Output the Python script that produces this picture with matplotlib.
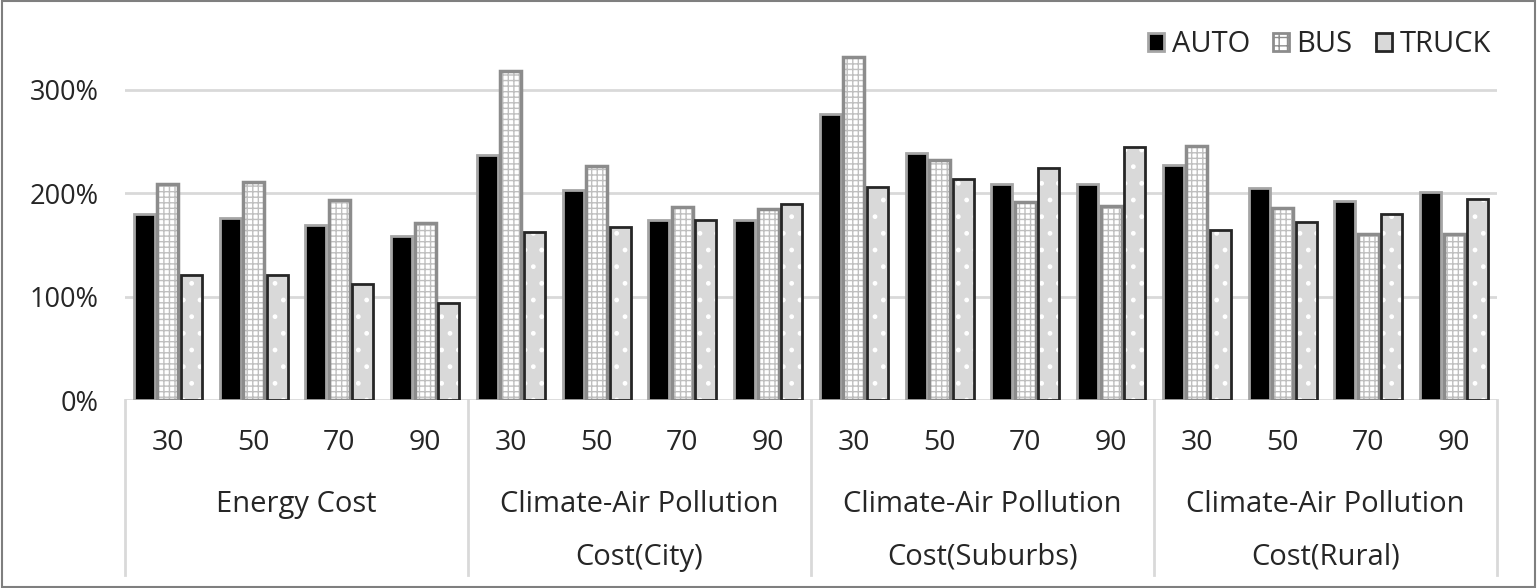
import numpy as np
import matplotlib
matplotlib.use("Agg")
import matplotlib.pyplot as plt
from matplotlib.patches import Rectangle
from matplotlib.transforms import blended_transform_factory

plt.rcParams['font.family'] = ['Open Sans', 'DejaVu Sans']

# data (percent)
speeds = ["30", "50", "70", "90"]
groups = ["Energy Cost", "Climate-Air Pollution\nCost(City)",
          "Climate-Air Pollution\nCost(Suburbs)", "Climate-Air Pollution\nCost(Rural)"]
auto = [180, 176, 169, 159,
        237, 203, 174, 174,
        277, 239, 209, 209,
        227, 205, 192, 201]
bus = [209, 211, 193, 171,
       318, 226, 187, 185,
       332, 232, 191, 188,
       246, 186, 161, 161]
truck = [121, 121, 112, 94,
         162, 167, 174, 190,
         206, 214, 224, 245,
         164, 172, 180, 194]
yticks = [0, 100, 200, 300]

fig = plt.figure(figsize=(15.37, 5.88), dpi=100)
ax = fig.add_axes([0.0813, 0.3197, 0.974 - 0.0813, 0.598])

x = np.arange(len(auto))
w = 0.245
step = 0.275
txt = "#262626"

# AUTO: black with gray border
ax.bar(x - step, auto, w, color="black", edgecolor="#a6a6a6", linewidth=2, zorder=3, label="AUTO")
# BUS: white with gray dotted grid
plt.rcParams['hatch.linewidth'] = 1.0
ax.bar(x, bus, w, color="white", edgecolor="#bfbfbf", hatch="+++", linewidth=0, zorder=3)
ax.bar(x, bus, w, fill=False, edgecolor="#8c8c8c", linewidth=2.5, zorder=4)
# TRUCK: light gray with sparse white dots, dark border
ax.bar(x + step, truck, w, color="#d9d9d9", edgecolor="white", hatch=".", linewidth=0, zorder=3)
ax.bar(x + step, truck, w, fill=False, edgecolor="#262626", linewidth=2, zorder=4)

# legend handles
h_auto = Rectangle((0, 0), 1, 1, facecolor="black", edgecolor="#a6a6a6", linewidth=2)
h_bus = Rectangle((0, 0), 1, 1, facecolor="white", edgecolor="#8c8c8c", hatch="++", linewidth=2)
h_truck = Rectangle((0, 0), 1, 1, facecolor="#d9d9d9", edgecolor="#262626", linewidth=2)
leg = ax.legend([h_auto, h_bus, h_truck], ["AUTO", "BUS", "TRUCK"], loc="center right",
                bbox_to_anchor=(1.006, 1.01), ncol=3, frameon=False, fontsize=21,
                handlelength=0.55, handleheight=0.55, handletextpad=0.25,
                columnspacing=0.8, borderaxespad=0.1)
for t in leg.get_texts():
    t.set_color(txt)

ax.set_xlim(-0.5, len(auto) - 0.5)
ax.set_ylim(0, 340)
ax.set_yticks(yticks)
ax.set_yticklabels([f"{v}%" for v in yticks], fontsize=19.5, color=txt)
ax.tick_params(axis="y", length=0, pad=19)
ax.set_xticks([])
for s in ax.spines.values():
    s.set_visible(False)
ax.yaxis.grid(True, color="#d9d9d9", linewidth=2, zorder=0)
ax.set_axisbelow(True)

# two-level category axis below the plot
trans = blended_transform_factory(ax.transData, ax.transAxes)
for b in [-0.5, 3.5, 7.5, 11.5, 15.5]:
    ax.plot([b, b], [0, -0.498], transform=trans, color="#d9d9d9", linewidth=2, clip_on=False)
for i in x:
    ax.text(i, -0.122, speeds[i % 4], transform=trans, ha="center", va="center",
            fontsize=20.5, color=txt)
for g, name in enumerate(groups):
    cx = g * 4 + 1.5
    for j, line in enumerate(name.split("\n")):
        ax.text(cx, -0.296 - j * 0.151, line, transform=trans, ha="center", va="center",
                fontsize=21, color=txt)

# outer frame of the picture
fig.patches.append(Rectangle((0.001, 0.002), 0.998, 0.996, transform=fig.transFigure,
                             fill=False, edgecolor="#7f7f7f", linewidth=1.5))

fig.savefig("out.png", dpi=100)
